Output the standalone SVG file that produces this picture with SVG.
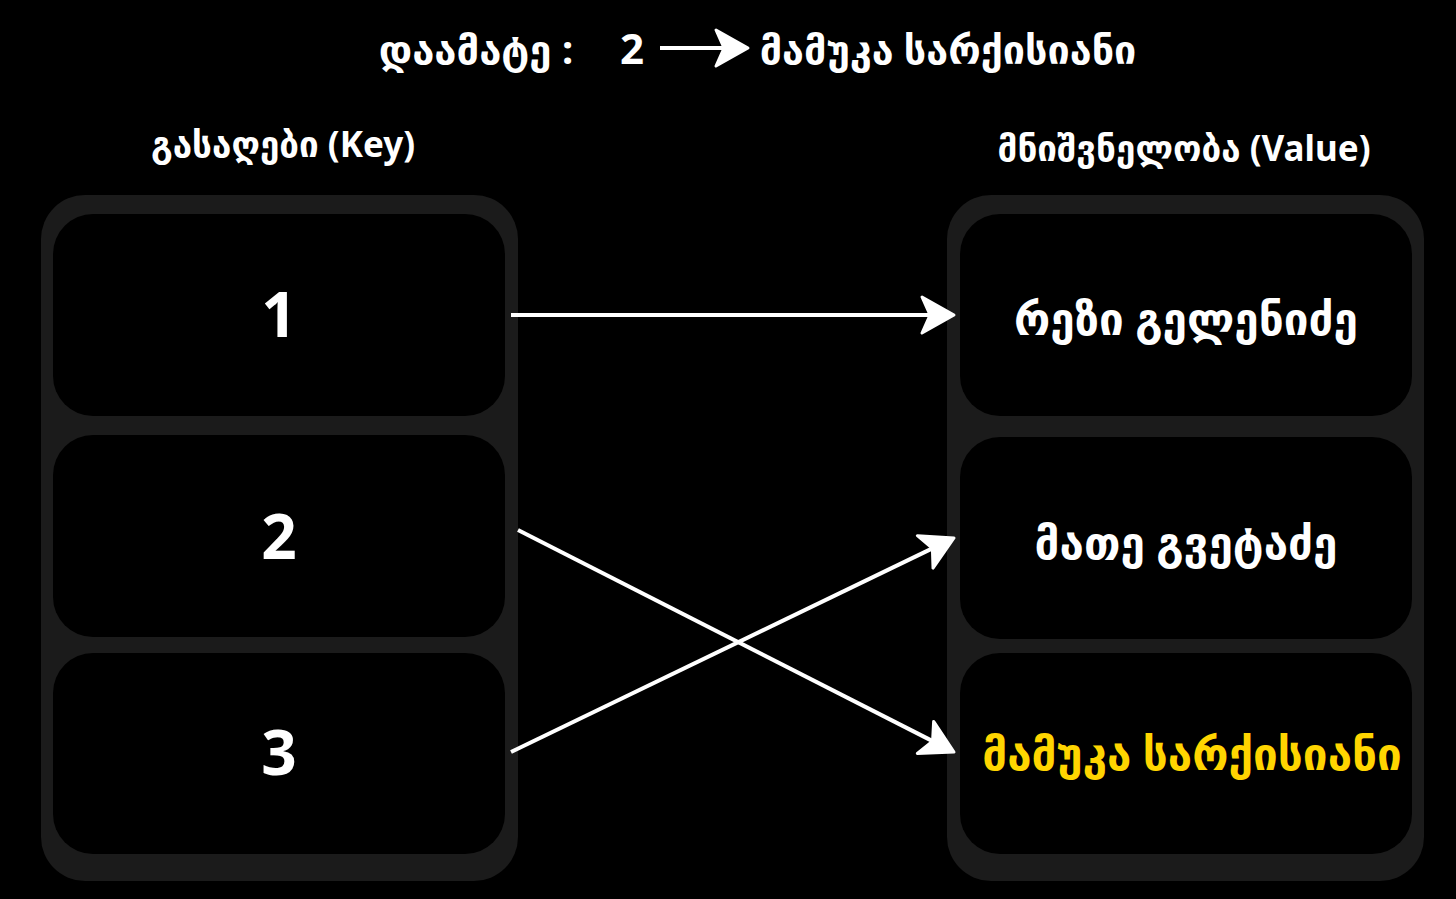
<svg xmlns="http://www.w3.org/2000/svg" width="1456" height="899" viewBox="0 0 1456 899">
<style>
.bg{fill:#000}
.col{fill:#1b1b1b}
.cell{fill:#000}
.t{font-family:"Noto Sans","DejaVu Sans",sans-serif;fill:#fff;text-anchor:middle}
.key{font-size:62px;font-weight:bold}
.hdr{font-size:35px;font-weight:bold}
.val{font-size:44px;font-weight:bold}
.yel{fill:#ffd500}
.conn{stroke:#fff;stroke-width:4;fill:none}
</style>
<defs>
<marker id="ah" markerUnits="userSpaceOnUse" markerWidth="40" markerHeight="44" viewBox="-2 -22 40 44" refX="8" refY="0" orient="auto">
<path d="M0,-18 L32,0 L0,18 L8,0 Z" fill="#fff" stroke="#fff" stroke-width="3" stroke-linejoin="round"/>
</marker>
</defs>
<rect class="bg" x="0" y="0" width="1456" height="899"/>
<g id="title">
<text class="t" x="476" y="64" style="font-size:40px;font-weight:bold">დაამატე :</text>
<text class="t" x="632" y="64" style="font-size:42px;font-weight:bold">2</text>
<line class="conn" x1="660" y1="48" x2="724" y2="48" marker-end="url(#ah)"/>
<text class="t" x="948" y="64" style="font-size:39.5px;font-weight:bold">მამუკა სარქისიანი</text>
</g>
<g id="key-header"><text class="t hdr" x="283" y="157">გასაღები (Key)</text></g>
<g id="value-header"><text class="t hdr" x="1184" y="161">მნიშვნელობა (Value)</text></g>
<g id="keys-column"><rect class="col" x="41" y="195" width="477" height="686" rx="44"/></g>
<g id="values-column"><rect class="col" x="947" y="195" width="477" height="686" rx="44"/></g>
<g id="key-1"><rect class="cell" x="53" y="214" width="452" height="202" rx="40"/><text class="t key" x="279" y="337">1</text></g>
<g id="key-2"><rect class="cell" x="53" y="435" width="452" height="202" rx="40"/><text class="t key" x="279" y="559">2</text></g>
<g id="key-3"><rect class="cell" x="53" y="653" width="452" height="201" rx="40"/><text class="t key" x="279" y="775">3</text></g>
<g id="value-1"><rect class="cell" x="960" y="214" width="452" height="202" rx="40"/><text class="t val" x="1186" y="335">რეზი გელენიძე</text></g>
<g id="value-2"><rect class="cell" x="960" y="437" width="452" height="202" rx="40"/><text class="t val" x="1186" y="559">მათე გვეტაძე</text></g>
<g id="value-3"><rect class="cell" x="960" y="653" width="452" height="201" rx="40"/><text class="t val yel" x="1192" y="770">მამუკა სარქისიანი</text></g>
<g id="connectors">
<line class="conn" x1="511" y1="315" x2="930" y2="315" marker-end="url(#ah)"/>
<line class="conn" x1="518" y1="530" x2="932.6" y2="741.1" marker-end="url(#ah)"/>
<line class="conn" x1="511" y1="752" x2="932.4" y2="548.4" marker-end="url(#ah)"/>
</g>
</svg>
